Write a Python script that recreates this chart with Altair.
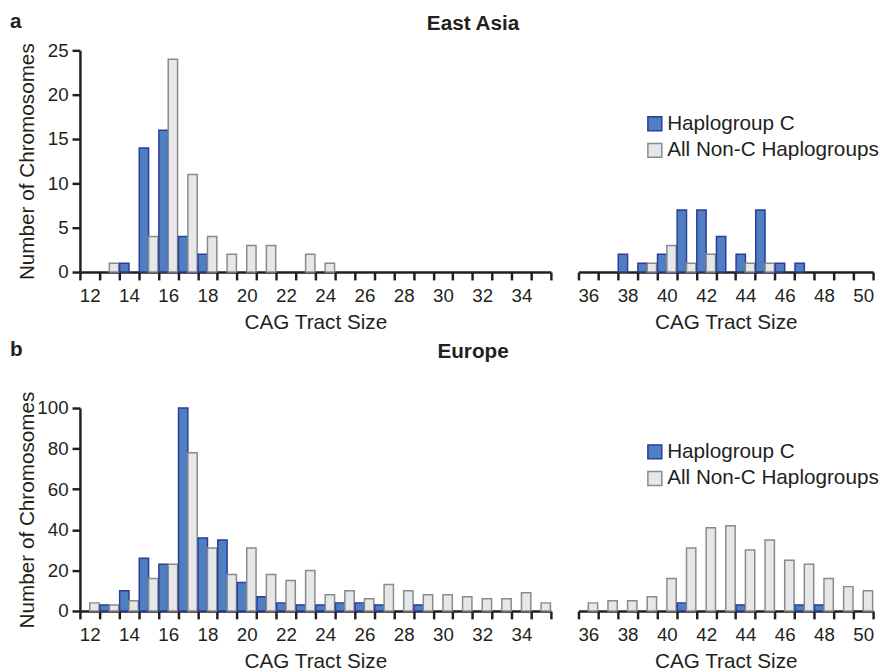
import altair as alt
import pandas as pd

FONT = "Liberation Sans"
INK = "#231f20"

series_names = ["Haplogroup C", "All Non-C Haplogroups"]
fill_colors = ["#4f7fc0", "#e6e7e8"]
stroke_colors = ["#2b3d99", "#8a8a8a"]

sizes_left = [12, 13, 14, 15, 16, 17, 18, 19, 20, 21, 22, 23,
              24, 25, 26, 27, 28, 29, 30, 31, 32, 33, 34, 35]
sizes_right = [36, 37, 38, 39, 40, 41, 42, 43, 44, 45, 46, 47, 48, 49, 50]

# East Asia
east_c_left = [0, 0, 1, 14, 16, 4, 2, 0, 0, 0, 0, 0,
               0, 0, 0, 0, 0, 0, 0, 0, 0, 0, 0, 0]
east_nonc_left = [0, 1, 0, 4, 24, 11, 4, 2, 3, 3, 0, 2,
                  1, 0, 0, 0, 0, 0, 0, 0, 0, 0, 0, 0]
east_c_right = [0, 0, 2, 1, 2, 7, 7, 4, 2, 7, 1, 1, 0, 0, 0]
east_nonc_right = [0, 0, 0, 1, 3, 1, 2, 0, 1, 1, 0, 0, 0, 0, 0]

# Europe
europe_c_left = [0, 3, 10, 26, 23, 100, 36, 35, 14, 7, 4, 3,
                 3, 4, 4, 3, 0, 3, 0, 0, 0, 0, 0, 0]
europe_nonc_left = [4, 3, 5, 16, 23, 78, 31, 18, 31, 18, 15, 20,
                    8, 10, 6, 13, 10, 8, 8, 7, 6, 6, 9, 4]
europe_c_right = [0, 0, 0, 0, 0, 4, 0, 0, 3, 0, 0, 3, 3, 0, 0]
europe_nonc_right = [4, 5, 5, 7, 16, 31, 41, 42, 30, 35, 25, 23, 16, 12, 10]

east_yticks = [0, 5, 10, 15, 20, 25]
europe_yticks = [0, 20, 40, 60, 80, 100]


def build_table(sizes, c_vals, nonc_vals):
    rows = []
    for s, a, b in zip(sizes, c_vals, nonc_vals):
        rows.append({"tract": s, "series": series_names[0], "count": a})
        rows.append({"tract": s, "series": series_names[1], "count": b})
    return pd.DataFrame(rows)


def panel(sizes, c_vals, nonc_vals, ymax, yticks, width, height,
          left=True, legend_y=None, letter=None, heading=None):
    df = build_table(sizes, c_vals, nonc_vals)
    x_axis = alt.Axis(
        title="CAG Tract Size",
        labelExpr="datum.value % 2 === 0 ? datum.label : ''",
        tickBand="extent",
        labelAngle=0,
        labelOverlap=False,
        labelPadding=7,
        titlePadding=6,
        grid=False,
    )
    if left:
        y_axis = alt.Axis(
            values=yticks,
            title="Number of Chromosomes",
            titleX=-53,
            titleY=height / 2,
            titleAngle=270,
            titleAlign="center",
            titleBaseline="middle",
            labelPadding=4,
            grid=False,
        )
    else:
        y_axis = None
    if legend_y is not None:
        leg = alt.Legend(
            orient="none", legendX=67, legendY=legend_y, title=None,
            symbolType="square", symbolSize=200, symbolStrokeWidth=1.5,
            labelFont=FONT, labelFontSize=21, labelColor=INK, labelLimit=0,
            rowPadding=5, labelOffset=2,
        )
    else:
        leg = None
    bars = alt.Chart(df).transform_filter("datum.count > 0").mark_bar(
        strokeWidth=1.5
    ).encode(
        x=alt.X("tract:O", scale=alt.Scale(domain=sizes, paddingInner=0, paddingOuter=0),
                axis=x_axis),
        xOffset=alt.XOffset("series:N", scale=alt.Scale(domain=series_names, paddingOuter=0.05),
                            sort=series_names),
        y=alt.Y("count:Q", scale=alt.Scale(domain=[0, ymax], nice=False), axis=y_axis),
        fill=alt.Fill("series:N", scale=alt.Scale(domain=series_names, range=fill_colors),
                      legend=leg),
        stroke=alt.Stroke("series:N", scale=alt.Scale(domain=series_names, range=stroke_colors),
                          legend=leg),
    ).properties(width=width, height=height)
    layers = [bars]
    if letter is not None:
        layers.append(
            alt.Chart(pd.DataFrame({"t": [letter[0]]})).mark_text(
                font=FONT, fontSize=21, fontWeight="bold", color=INK,
                align="left", baseline="alphabetic"
            ).encode(text="t:N", x=alt.value(letter[1]), y=alt.value(letter[2]))
        )
    if heading is not None:
        layers.append(
            alt.Chart(pd.DataFrame({"t": [heading[0]]})).mark_text(
                font=FONT, fontSize=21, fontWeight="bold", color=INK,
                align="center", baseline="alphabetic"
            ).encode(text="t:N", x=alt.value(heading[1]), y=alt.value(heading[2]))
        )
    if len(layers) == 1:
        return bars
    return alt.layer(*layers)


res = dict(x="independent", y="independent", fill="independent", stroke="independent")

top_left = panel(sizes_left, east_c_left, east_nonc_left, 25, east_yticks, 478, 225,
                 left=True, letter=("a", -71, -23), heading=("East Asia", 399, -21))
top_right = panel(sizes_right, east_c_right, east_nonc_right, 25, east_yticks, 299, 225,
                  left=False, legend_y=64)
bot_left = panel(sizes_left, europe_c_left, europe_nonc_left, 100, europe_yticks, 478, 206,
                 left=True, letter=("b", -71, -53), heading=("Europe", 399, -51))
bot_right = panel(sizes_right, europe_c_right, europe_nonc_right, 100, europe_yticks, 299, 206,
                  left=False, legend_y=34)

row1 = alt.hconcat(top_left, top_right, spacing=24).resolve_scale(**res)
row2 = alt.hconcat(bot_left, bot_right, spacing=24).resolve_scale(**res)

chart = alt.vconcat(row1, row2, spacing=7).resolve_scale(**res).configure_view(
    stroke=None
).configure_axis(
    domainColor=INK, domainWidth=2.5, tickColor=INK, tickWidth=2.5, tickSize=8,
    labelFont=FONT, labelFontSize=19, labelColor=INK,
    titleFont=FONT, titleFontSize=21, titleFontWeight="normal", titleColor=INK,
).properties(
    padding={"top": -2, "left": 2, "right": 0, "bottom": 0},
    background="white",
)

chart.save("out.html", embed_options={"renderer": "svg", "actions": False})
